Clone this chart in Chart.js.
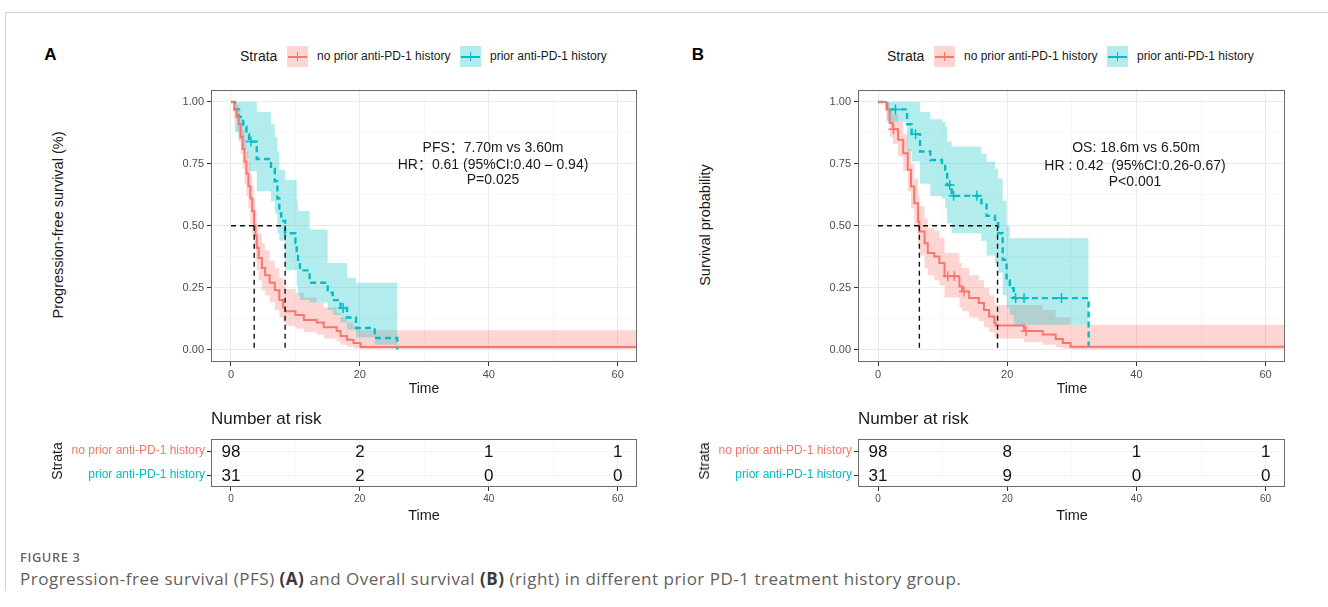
<!DOCTYPE html>
<html>
<head>
<meta charset="utf-8">
<script src="https://cdn.jsdelivr.net/npm/chart.js@4.4.1/dist/chart.umd.min.js"></script>
<style>
  body { margin: 0; background: #fff; width: 1328px; height: 607px; position: relative; overflow: hidden;
         font-family: "Liberation Sans", Arial, "Noto Sans CJK SC", sans-serif; color: #1a1a1a; }
  canvas { position: absolute; }
  .t { position: absolute; white-space: nowrap; line-height: 1; }
  .c { transform: translate(-50%, -50%); }
  .l { transform: translateY(-50%); }
  .rot { transform: translate(-50%, -50%) rotate(-90deg); }
  .key { position: absolute; width: 21px; height: 21px; }
  .key i { position: absolute; left: 1px; right: 1px; top: 9.5px; height: 2px; }
  .key b { position: absolute; left: 9.7px; top: 6px; width: 1.6px; height: 9px; }
  .frame { position: absolute; left: 5px; top: 12px; width: 1330px; height: 578px;
           border-top: 1px solid #d4d4d4; border-left: 1px solid #d4d4d4; }
  .cap { font-family: "Open Sans", "Noto Sans", sans-serif; color: #5f5f5f; }
</style>
</head>
<body>
<div class="frame"></div>

<canvas id="kmA" width="500" height="320" style="left:150px;top:80px"></canvas>
<canvas id="kmB" width="500" height="320" style="left:797px;top:80px"></canvas>
<canvas id="riskA" width="590" height="85" style="left:60px;top:430px"></canvas>
<canvas id="riskB" width="590" height="85" style="left:707px;top:430px"></canvas>

<!-- panel A text -->
<div class="t c" style="left:50.5px;top:54px;font-size:17px;font-weight:bold;color:#000">A</div>
<div class="t l" style="left:240px;top:56px;font-size:14px">Strata</div>
<div class="key" style="left:287px;top:46px;background:rgba(248,118,109,0.3)"><i style="background:#F8766D"></i><b style="background:#F8766D"></b></div>
<div class="t l" style="left:317px;top:56px;font-size:12px">no prior anti-PD-1 history</div>
<div class="key" style="left:460px;top:46px;background:rgba(0,191,196,0.3)"><i style="background:#00BFC4"></i><b style="background:#00BFC4"></b></div>
<div class="t l" style="left:490px;top:56px;font-size:12px">prior anti-PD-1 history</div>
<div class="t rot" style="left:58px;top:225px;font-size:14.5px">Progression-free survival (%)</div>
<div class="t c" style="left:424px;top:388px;font-size:14px">Time</div>
<div class="t c" style="left:493px;top:147px;font-size:14px">PFS：7.70m vs 3.60m</div>
<div class="t c" style="left:493px;top:164px;font-size:14px">HR：0.61 (95%CI:0.40 – 0.94)</div>
<div class="t c" style="left:493px;top:179px;font-size:14px">P=0.025</div>
<div class="t l" style="left:211px;top:418px;font-size:17px">Number at risk</div>
<div class="t rot" style="left:57px;top:461px;font-size:14px">Strata</div>
<div class="t c" style="left:424px;top:515px;font-size:14.5px">Time</div>

<!-- panel B text -->
<div class="t c" style="left:698px;top:54px;font-size:17px;font-weight:bold;color:#000">B</div>
<div class="t l" style="left:887px;top:56px;font-size:14px">Strata</div>
<div class="key" style="left:934px;top:46px;background:rgba(248,118,109,0.3)"><i style="background:#F8766D"></i><b style="background:#F8766D"></b></div>
<div class="t l" style="left:964px;top:56px;font-size:12px">no prior anti-PD-1 history</div>
<div class="key" style="left:1107px;top:46px;background:rgba(0,191,196,0.3)"><i style="background:#00BFC4"></i><b style="background:#00BFC4"></b></div>
<div class="t l" style="left:1137px;top:56px;font-size:12px">prior anti-PD-1 history</div>
<div class="t rot" style="left:705px;top:225px;font-size:14.5px">Survival probability</div>
<div class="t c" style="left:1072px;top:388px;font-size:14px">Time</div>
<div class="t c" style="left:1136px;top:147px;font-size:14px">OS: 18.6m vs 6.50m</div>
<div class="t c" style="left:1135px;top:165px;font-size:14px">HR : 0.42&nbsp; (95%CI:0.26-0.67)</div>
<div class="t c" style="left:1135px;top:181px;font-size:14px">P&lt;0.001</div>
<div class="t l" style="left:858px;top:418px;font-size:17px">Number at risk</div>
<div class="t rot" style="left:704px;top:461px;font-size:14px">Strata</div>
<div class="t c" style="left:1072px;top:515px;font-size:14.5px">Time</div>

<!-- caption -->
<div class="t l cap" style="left:20px;top:557px;font-size:13px;font-weight:600;letter-spacing:0.5px;color:#666">FIGURE 3</div>
<div class="t l cap" style="left:20px;top:578px;font-size:17px;letter-spacing:0.5px">Progression-free survival (PFS) <b style="color:#3a3a3a">(A)</b> and Overall survival <b style="color:#3a3a3a">(B)</b> (right) in different prior PD-1 treatment history group.</div>

<script>
// axes
const xTicks = [0, 10, 20, 30, 40, 50, 60];
const xLabels = [0, 20, 40, 60];
const yTicks = [0, 0.125, 0.25, 0.375, 0.5, 0.625, 0.75, 0.875, 1];
const yLabels = [0, 0.25, 0.5, 0.75, 1];

// A: progression-free survival, no prior anti-PD-1
const pfsNoPriorTime = [0, 0.5, 0.9, 1.2, 1.5, 1.8, 2.1, 2.4, 2.7, 3.0, 3.3, 3.6, 3.8, 4.0, 4.3, 4.8, 5.3, 6.0, 6.8, 7.5, 8.1, 8.4, 10.0, 11.3, 13.3, 14.4, 16.4, 17.0, 18.0, 19.0, 20.1, 63];
const pfsNoPriorSurv = [1, 0.97, 0.94, 0.91, 0.86, 0.81, 0.76, 0.71, 0.66, 0.61, 0.56, 0.50, 0.46, 0.41, 0.37, 0.33, 0.30, 0.27, 0.24, 0.20, 0.17, 0.155, 0.14, 0.12, 0.11, 0.09, 0.075, 0.055, 0.04, 0.027, 0.0102, 0.0102];
const pfsNoPriorUpper = [1, 1, 0.99, 0.97, 0.93, 0.89, 0.85, 0.80, 0.76, 0.71, 0.66, 0.61, 0.56, 0.51, 0.47, 0.43, 0.40, 0.36, 0.33, 0.29, 0.26, 0.245, 0.23, 0.21, 0.19, 0.17, 0.15, 0.13, 0.11, 0.095, 0.078, 0.078];
const pfsNoPriorLower = [1, 0.93, 0.88, 0.84, 0.79, 0.73, 0.67, 0.62, 0.57, 0.51, 0.46, 0.41, 0.36, 0.32, 0.28, 0.24, 0.22, 0.19, 0.16, 0.13, 0.11, 0.095, 0.085, 0.07, 0.06, 0.045, 0.035, 0.02, 0.012, 0.006, 0.002, 0.002];

// A: prior anti-PD-1
const pfsPriorTime = [0, 0.6, 1.2, 1.9, 2.4, 2.8, 4.0, 6.2, 6.8, 7.2, 7.5, 7.8, 8.4, 10.0, 10.2, 10.4, 10.7, 12.2, 15.0, 15.8, 17.0, 18.0, 19.4, 22.3, 25.8];
const pfsPriorSurv = [1, 0.97, 0.94, 0.90, 0.87, 0.84, 0.77, 0.73, 0.68, 0.61, 0.55, 0.52, 0.47, 0.43, 0.39, 0.35, 0.32, 0.27, 0.23, 0.20, 0.168, 0.13, 0.087, 0.047, 0];
const pfsPriorUpper = [1, 1, 1, 1, 1, 1, 0.96, 0.91, 0.86, 0.80, 0.725, 0.725, 0.685, 0.685, 0.60, 0.56, 0.56, 0.485, 0.35, 0.35, 0.35, 0.29, 0.27, 0.27, 0.27];
const pfsPriorLower = [1, 0.88, 0.85, 0.81, 0.77, 0.72, 0.64, 0.60, 0.55, 0.47, 0.44, 0.44, 0.32, 0.32, 0.26, 0.22, 0.20, 0.19, 0.16, 0.14, 0.11, 0.08, 0.05, 0.02, 0];
const pfsPriorCensorTime = [3.1, 17.4];
const pfsPriorCensorSurv = [0.84, 0.168];
const pfsMedians = [3.6, 8.4];

// B: overall survival, no prior anti-PD-1
const osNoPriorTime = [0, 0.8, 1.3, 1.8, 2.3, 3.1, 3.9, 4.6, 5.1, 5.6, 6.2, 6.4, 7.2, 7.7, 8.7, 9.5, 10.3, 12.6, 13.0, 14.1, 15.6, 16.4, 17.2, 18.0, 18.2, 22.6, 25.5, 27.5, 28.6, 29.8, 63];
const osNoPriorSurv = [1, 1, 0.97, 0.915, 0.89, 0.847, 0.793, 0.726, 0.659, 0.591, 0.517, 0.477, 0.43, 0.39, 0.376, 0.35, 0.296, 0.255, 0.235, 0.208, 0.188, 0.16, 0.134, 0.108, 0.097, 0.075, 0.061, 0.043, 0.027, 0.012, 0.012];
const osNoPriorUpper = [1, 1, 1, 0.97, 0.95, 0.92, 0.87, 0.81, 0.75, 0.69, 0.62, 0.58, 0.53, 0.49, 0.48, 0.45, 0.39, 0.35, 0.33, 0.30, 0.28, 0.25, 0.22, 0.19, 0.18, 0.18, 0.16, 0.13, 0.13, 0.10, 0.10];
const osNoPriorLower = [1, 1, 0.93, 0.86, 0.83, 0.78, 0.72, 0.64, 0.57, 0.50, 0.42, 0.38, 0.33, 0.30, 0.28, 0.26, 0.21, 0.17, 0.155, 0.13, 0.115, 0.09, 0.07, 0.05, 0.045, 0.03, 0.02, 0.01, 0.005, 0.002, 0.002];
const osNoPriorCensorTime = [2.4, 10.8, 11.8, 13.3, 22.9];
const osNoPriorCensorSurv = [0.89, 0.296, 0.296, 0.235, 0.075];

// B: prior anti-PD-1
const osPriorTime = [0, 1.4, 4.5, 5.2, 6.5, 8.1, 9.9, 10.4, 10.7, 11.4, 16.0, 16.8, 18.1, 18.6, 19.3, 19.9, 20.4, 21.0, 32.6];
const osPriorSurv = [1, 0.97, 0.91, 0.87, 0.80, 0.766, 0.753, 0.72, 0.665, 0.621, 0.591, 0.54, 0.51, 0.47, 0.363, 0.28, 0.248, 0.208, 0];
const osPriorUpper = [1, 1, 1, 1, 0.96, 0.93, 0.92, 0.90, 0.84, 0.82, 0.79, 0.76, 0.73, 0.69, 0.60, 0.50, 0.45, 0.45, 0.45];
const osPriorLower = [1, 0.92, 0.80, 0.76, 0.67, 0.62, 0.61, 0.57, 0.51, 0.47, 0.44, 0.38, 0.35, 0.31, 0.22, 0.17, 0.14, 0.10, 0.10];
const osPriorCensorTime = [2.7, 5.8, 11.1, 11.7, 15.3, 21.3, 22.6, 28.4];
const osPriorCensorSurv = [0.97, 0.87, 0.665, 0.621, 0.621, 0.208, 0.208, 0.208];
const osMedians = [6.4, 18.5];

// number at risk
const riskTimes = [0, 20, 40, 60];
const strata = ['no prior anti-PD-1 history', 'prior anti-PD-1 history'];
const pfsRiskNoPrior = [98, 2, 1, 1];
const pfsRiskPrior = [31, 2, 0, 0];
const osRiskNoPrior = [98, 8, 1, 1];
const osRiskPrior = [31, 9, 0, 0];

const RED = '#F8766D';
const TEAL = '#00BFC4';
const RED_FILL = 'rgba(248,118,109,0.3)';
const TEAL_FILL = 'rgba(0,191,196,0.3)';
const TICK_TEXT = '#4D4D4D';

function pts(xs, ys) {
    return xs.map((x, i) => ({ x: x, y: ys[i] }));
}

// ggplot-like full panel border
const panelBox = {
    id: 'panelBox',
    afterDraw(chart) {
        const a = chart.chartArea;
        const ctx = chart.ctx;
        ctx.save();
        ctx.strokeStyle = '#6b6b6b';
        ctx.lineWidth = 1;
        ctx.strokeRect(Math.round(a.left) + 0.5, Math.round(a.top) + 0.5,
            Math.round(a.right - a.left) - 1, Math.round(a.bottom - a.top) - 1);
        ctx.restore();
    }
};

// numbers in the risk table, placed at each point of the datasets
const riskNumbers = {
    id: 'riskNumbers',
    afterDatasetsDraw(chart) {
        const ctx = chart.ctx;
        ctx.save();
        ctx.fillStyle = '#111';
        ctx.font = '17px "Liberation Sans", Arial, sans-serif';
        ctx.textAlign = 'center';
        ctx.textBaseline = 'middle';
        chart.data.datasets.forEach((ds, di) => {
            chart.getDatasetMeta(di).data.forEach((el, i) => {
                ctx.fillText(String(ds.data[i].n), el.x, el.y + 1);
            });
        });
        ctx.restore();
    }
};

function xScale(height, labelSize, minorGrid) {
    return {
        type: 'linear',
        min: -3.1,
        max: 63,
        afterBuildTicks: s => { s.ticks = xTicks.map(v => ({ value: v })); },
        afterFit: s => { s.height = height; },
        border: { display: false },
        grid: {
            color: c => (c.tick && xLabels.includes(c.tick.value)) ? '#EBEBEB' : minorGrid,
            lineWidth: c => (c.tick && xLabels.includes(c.tick.value)) ? 1 : 0.7,
            tickColor: c => (c.tick && xLabels.includes(c.tick.value)) ? '#333' : 'rgba(0,0,0,0)',
            tickLength: 4
        },
        ticks: {
            autoSkip: false,
            maxRotation: 0,
            padding: 2,
            color: TICK_TEXT,
            font: { family: '"Liberation Sans", Arial, sans-serif', size: labelSize },
            callback: v => xLabels.includes(v) ? String(v) : ''
        }
    };
}

function stepLine(data, color, dash, order) {
    return {
        data: data, borderColor: color, borderWidth: dash ? 2.4 : 2, borderDash: dash || [],
        stepped: true, fill: false, pointRadius: 0, order: order
    };
}

function bandPair(upper, lower, fillColor, order) {
    return [
        { data: upper, borderWidth: 0, borderColor: 'rgba(0,0,0,0)', backgroundColor: fillColor,
          stepped: true, fill: '+1', pointRadius: 0, order: order },
        { data: lower, borderWidth: 0, borderColor: 'rgba(0,0,0,0)', stepped: true,
          fill: false, pointRadius: 0, order: order }
    ];
}

function censor(data, color) {
    return { data: data, showLine: false, pointStyle: 'cross', pointRadius: 5,
             pointBorderColor: color, pointBorderWidth: 1.5, order: 0 };
}

function medianLine(data) {
    return { data: data, borderColor: '#111', borderWidth: 1.4, borderDash: [5, 4],
             pointRadius: 0, fill: false, order: 0 };
}

function kmChart(id, p) {
    const [m1, m2] = p.medians;
    const datasets = [
        stepLine(pts(p.t1, p.s1), RED, null, 1),
        stepLine(pts(p.t2, p.s2), TEAL, [6, 4], 1),
        censor(pts(p.c1t, p.c1s), RED),
        censor(pts(p.c2t, p.c2s), TEAL),
        medianLine([{ x: 0, y: 0.5 }, { x: Math.max(m1, m2), y: 0.5 }]),
        medianLine([{ x: m1, y: 0.5 }, { x: m1, y: 0 }]),
        medianLine([{ x: m2, y: 0.5 }, { x: m2, y: 0 }]),
        ...bandPair(pts(p.t1, p.u1), pts(p.t1, p.l1), RED_FILL, 6),
        ...bandPair(pts(p.t2, p.u2), pts(p.t2, p.l2), TEAL_FILL, 5)
    ];
    return new Chart(document.getElementById(id), {
        type: 'line',
        data: { datasets: datasets },
        options: {
            responsive: false,
            animation: false,
            layout: { padding: { top: 9, right: p.padRight, left: 0, bottom: 0 } },
            plugins: { legend: { display: false }, tooltip: { enabled: false } },
            scales: {
                x: xScale(38, 11, '#F4F4F4'),
                y: {
                    type: 'linear',
                    min: -0.05,
                    max: 1.05,
                    afterBuildTicks: s => { s.ticks = yTicks.map(v => ({ value: v })); },
                    afterFit: s => { s.width = 61; },
                    border: { display: false },
                    grid: {
                        color: c => (c.tick && yLabels.includes(c.tick.value)) ? '#EBEBEB' : '#F4F4F4',
                        lineWidth: c => (c.tick && yLabels.includes(c.tick.value)) ? 1 : 0.7,
                        tickColor: c => (c.tick && yLabels.includes(c.tick.value)) ? '#333' : 'rgba(0,0,0,0)',
                        tickLength: 4
                    },
                    ticks: {
                        autoSkip: false,
                        padding: 3,
                        color: TICK_TEXT,
                        font: { family: '"Liberation Sans", Arial, sans-serif', size: 11 },
                        callback: v => yLabels.includes(v) ? v.toFixed(2) : ''
                    }
                }
            }
        },
        plugins: [panelBox]
    });
}

function riskChart(id, noPrior, prior, padRight) {
    const rows = [noPrior, prior].map((counts, r) => ({
        data: riskTimes.map((t, i) => ({ x: t, y: strata[r], n: counts[i] })),
        showLine: false,
        pointRadius: 0
    }));
    const x = xScale(28, 10, '#F7F7F7');
    x.grid.color = c => (c.tick && xLabels.includes(c.tick.value)) ? '#F1F1F1' : '#F7F7F7';
    return new Chart(document.getElementById(id), {
        type: 'line',
        data: { datasets: rows },
        options: {
            responsive: false,
            animation: false,
            layout: { padding: { top: 6, right: padRight, left: 0, bottom: 0 } },
            plugins: { legend: { display: false }, tooltip: { enabled: false } },
            scales: {
                x: x,
                y: {
                    type: 'category',
                    labels: strata,
                    offset: true,
                    afterFit: s => { s.width = 151; },
                    border: { display: false },
                    grid: { color: '#F3F3F3', lineWidth: 1, tickColor: '#333', tickLength: 4 },
                    ticks: {
                        padding: 2,
                        color: c => c.index === 0 ? RED : TEAL,
                        font: { family: '"Liberation Sans", Arial, sans-serif', size: 12 }
                    }
                }
            }
        },
        plugins: [panelBox, riskNumbers]
    });
}

kmChart('kmA', {
    t1: pfsNoPriorTime, s1: pfsNoPriorSurv, u1: pfsNoPriorUpper, l1: pfsNoPriorLower,
    t2: pfsPriorTime, s2: pfsPriorSurv, u2: pfsPriorUpper, l2: pfsPriorLower,
    c1t: [], c1s: [], c2t: pfsPriorCensorTime, c2s: pfsPriorCensorSurv,
    medians: pfsMedians, padRight: 13
});
kmChart('kmB', {
    t1: osNoPriorTime, s1: osNoPriorSurv, u1: osNoPriorUpper, l1: osNoPriorLower,
    t2: osPriorTime, s2: osPriorSurv, u2: osPriorUpper, l2: osPriorLower,
    c1t: osNoPriorCensorTime, c1s: osNoPriorCensorSurv, c2t: osPriorCensorTime, c2s: osPriorCensorSurv,
    medians: osMedians, padRight: 12
});
riskChart('riskA', pfsRiskNoPrior, pfsRiskPrior, 13);
riskChart('riskB', osRiskNoPrior, osRiskPrior, 12);
</script>
</body>
</html>
